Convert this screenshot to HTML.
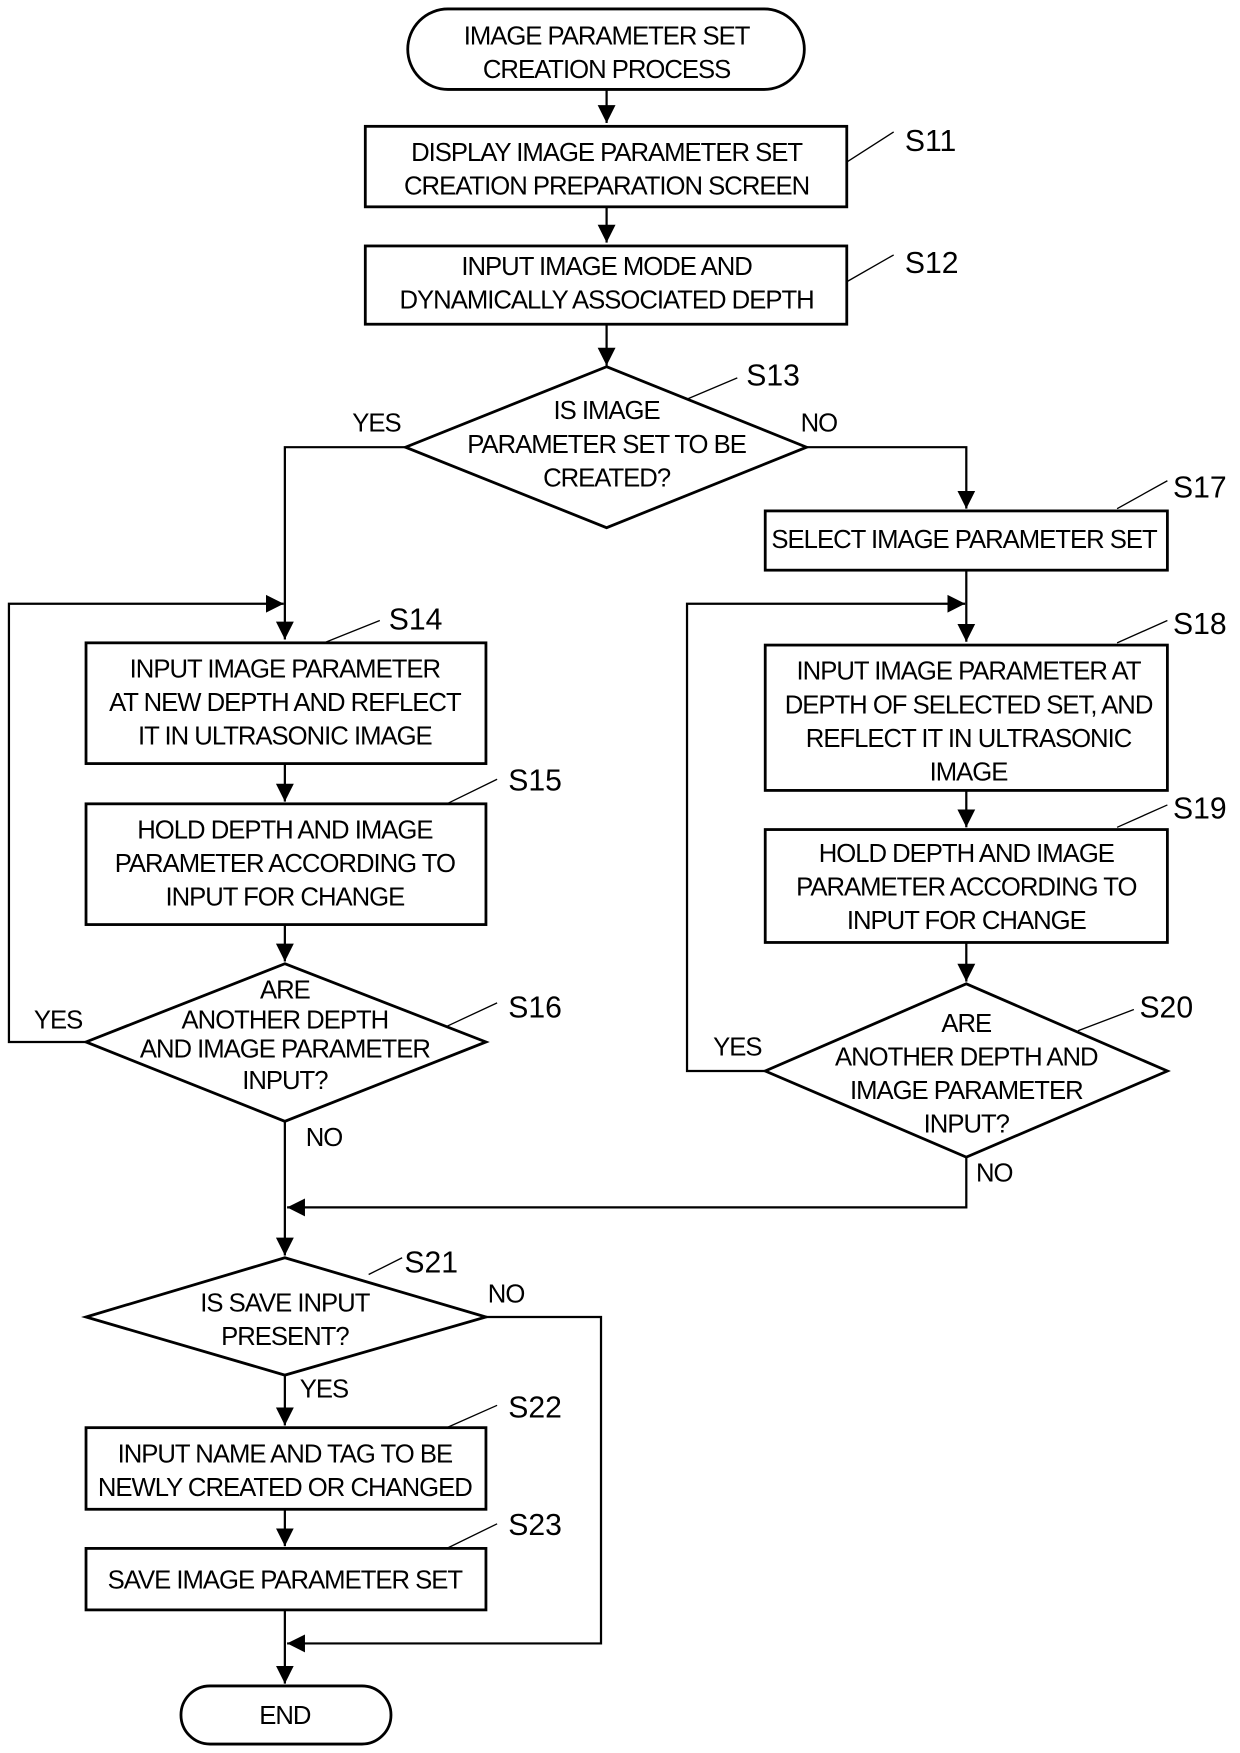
<!DOCTYPE html>
<html><head><meta charset="utf-8"><style>html,body{margin:0;padding:0;background:#fff}svg{display:block}</style></head>
<body>
<svg width="1240" height="1753" viewBox="0 0 1110 1568" preserveAspectRatio="none" xmlns="http://www.w3.org/2000/svg" font-family="Liberation Sans, sans-serif" font-size="23" text-anchor="middle" fill="#000">
<defs>
<marker id="b" viewBox="0 0 10 10" markerWidth="16" markerHeight="18" refX="10" refY="5" orient="auto" markerUnits="userSpaceOnUse"><path d="M0,0 L10,5 L0,10 z"/></marker></defs>
<g stroke="#000" stroke-width="2.5" fill="none">
<rect x="365" y="8" width="355" height="72" rx="36"/>
<rect x="327" y="113" width="431" height="72"/>
<rect x="327" y="220" width="431" height="70"/>
<polygon points="543,328 722,400 543,472 363,400"/>
<rect x="685" y="457" width="360" height="53"/>
<rect x="685" y="577" width="360" height="130"/>
<rect x="685" y="742" width="360" height="101"/>
<polygon points="865,880 1045,958 865,1035 685,958"/>
<rect x="77" y="575" width="358" height="108"/>
<rect x="77" y="719" width="358" height="108"/>
<polygon points="255,862 435,932 255,1003 77,932"/>
<polygon points="255,1125 435,1178 255,1230 77,1178"/>
<rect x="77" y="1277" width="358" height="73"/>
<rect x="77" y="1385" width="358" height="55"/>
<rect x="162" y="1508" width="188" height="52" rx="26"/>
</g>
<g stroke="#000" stroke-width="2" fill="none" marker-end="url(#b)">
<path d="M543,80V110"/><path d="M543,185V217"/><path d="M543,290V327"/>
<path d="M363,400H255V572"/><path d="M722,400H865V455"/>
<path d="M865,510V574"/><path d="M685,958H615V540H864"/>
<path d="M865,707V740"/><path d="M865,843V878"/>
<path d="M865,1035V1080H257"/>
<path d="M255,683V717"/><path d="M255,827V860"/>
<path d="M77,932H8V540H254"/>
<path d="M255,1003V1123"/>
<path d="M435,1178H538V1470H257"/>
<path d="M255,1230V1275"/><path d="M255,1350V1383"/><path d="M255,1440V1506"/>
</g>
<g stroke="#000" stroke-width="1.2">
<path d="M758,145L800,118"/><path d="M758,252L800,228"/><path d="M615,357L660,338"/>
<path d="M1000,455L1045,430"/><path d="M1000,575L1045,555"/><path d="M1000,740L1045,720"/>
<path d="M965,922L1015,903"/><path d="M290,575L340,555"/><path d="M400,719L445,697"/>
<path d="M400,918L445,897"/><path d="M330,1140L360,1125"/><path d="M400,1277L445,1257"/><path d="M400,1385L445,1363"/>
</g>
<g letter-spacing="-0.9">
<text x="543" y="40">IMAGE PARAMETER SET</text><text x="543" y="70">CREATION PROCESS</text>
<text x="543" y="144">DISPLAY IMAGE PARAMETER SET</text><text x="543" y="174">CREATION PREPARATION SCREEN</text>
<text x="543" y="246">INPUT IMAGE MODE AND</text><text x="543" y="276">DYNAMICALLY ASSOCIATED DEPTH</text>
<text x="543" y="375">IS IMAGE</text><text x="543" y="405">PARAMETER SET TO BE</text><text x="543" y="435">CREATED?</text>
<text x="863" y="490">SELECT IMAGE PARAMETER SET</text>
<text x="867" y="608">INPUT IMAGE PARAMETER AT</text><text x="867" y="638">DEPTH OF SELECTED SET, AND</text><text x="867" y="668">REFLECT IT IN ULTRASONIC</text><text x="867" y="698">IMAGE</text>
<text x="865" y="771">HOLD DEPTH AND IMAGE</text><text x="865" y="801">PARAMETER ACCORDING TO</text><text x="865" y="831">INPUT FOR CHANGE</text>
<text x="865" y="923">ARE</text><text x="865" y="953">ANOTHER DEPTH AND</text><text x="865" y="983">IMAGE PARAMETER</text><text x="865" y="1013">INPUT?</text>
<text x="255" y="606">INPUT IMAGE PARAMETER</text><text x="255" y="636">AT NEW DEPTH AND REFLECT</text><text x="255" y="666">IT IN ULTRASONIC IMAGE</text>
<text x="255" y="750">HOLD DEPTH AND IMAGE</text><text x="255" y="780">PARAMETER ACCORDING TO</text><text x="255" y="810">INPUT FOR CHANGE</text>
<text x="255" y="893">ARE</text><text x="255" y="920">ANOTHER DEPTH</text><text x="255" y="946">AND IMAGE PARAMETER</text><text x="255" y="974">INPUT?</text>
<text x="255" y="1173">IS SAVE INPUT</text><text x="255" y="1203">PRESENT?</text>
<text x="255" y="1308">INPUT NAME AND TAG TO BE</text><text x="255" y="1338">NEWLY CREATED OR CHANGED</text>
<text x="255" y="1421">SAVE IMAGE PARAMETER SET</text>
<text x="255" y="1542">END</text>
<text x="337" y="386">YES</text><text x="733" y="386">NO</text>
<text x="660" y="944">YES</text><text x="890" y="1057">NO</text>
<text x="52" y="920">YES</text><text x="290" y="1025">NO</text>
<text x="453" y="1165">NO</text><text x="290" y="1250">YES</text>
</g>
<g font-size="27" text-anchor="start">
<text x="810" y="135">S11</text><text x="810" y="244">S12</text><text x="668" y="345">S13</text>
<text x="1050" y="445">S17</text><text x="1050" y="567">S18</text><text x="1050" y="732">S19</text>
<text x="1020" y="910">S20</text><text x="348" y="563">S14</text><text x="455" y="707">S15</text>
<text x="455" y="910">S16</text><text x="362" y="1138">S21</text><text x="455" y="1268">S22</text><text x="455" y="1373">S23</text>
</g>
</svg>
</body></html>
